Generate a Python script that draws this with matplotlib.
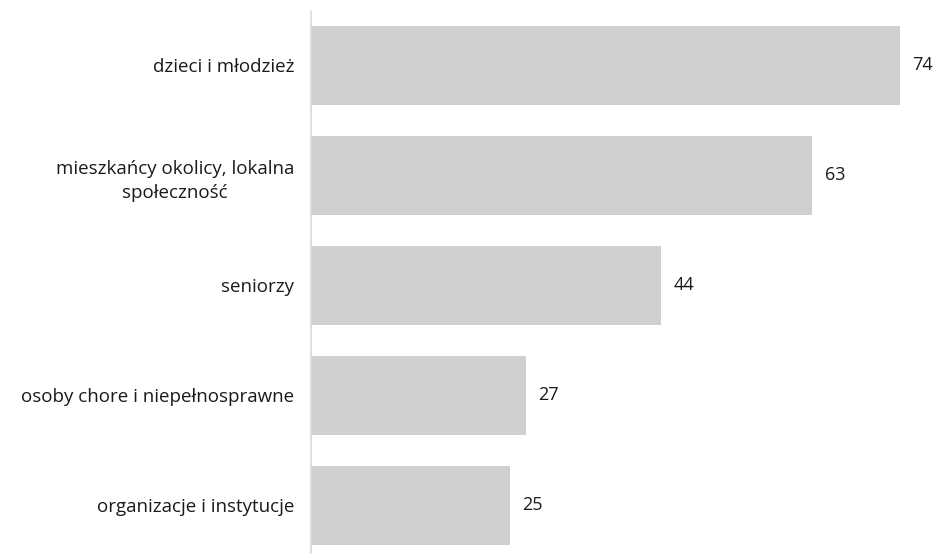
import matplotlib.pyplot as plt

categories = ['dzieci i młodzież',
              'mieszkańcy okolicy, lokalna\nspołeczność',
              'seniorzy',
              'osoby chore i niepełnosprawne',
              'organizacje i instytucje']
values = [74, 63, 44, 27, 25]

plt.rcParams['font.family'] = ['Open Sans', 'DejaVu Sans']

fig = plt.figure(figsize=(9.38, 5.54), dpi=100)
ax = fig.add_axes([311 / 938, 0, 1 - 311 / 938, 1 - 10.5 / 554])

pos = list(range(len(categories)))
bars = ax.barh(pos, values, height=0.71, color='#d0cfcf')
ax.set_ylim(543.5 / 110 - 0.5, -0.5)
ax.set_xlim(0, 627 / 7.96)

for b, v in zip(bars, values):
    ax.annotate(str(v), (b.get_width(), b.get_y() + b.get_height() / 2),
                xytext=(9, 0), textcoords='offset points', va='center',
                ha='left', fontsize=13, color='#1a1a1a')

ax.set_yticks(pos)
ax.set_yticklabels(categories, fontsize=13.5, color='#1a1a1a')
ax.tick_params(axis='y', length=0, pad=12)
for lab in ax.get_yticklabels():
    lab.set_multialignment('center')
    lab.set_linespacing(1.45)
ax.set_xticks([])
for s in ['top', 'right', 'bottom']:
    ax.spines[s].set_visible(False)
ax.spines['left'].set_color('#d9d9d9')
ax.spines['left'].set_linewidth(1.2)

fig.savefig('out.png', dpi=100)
